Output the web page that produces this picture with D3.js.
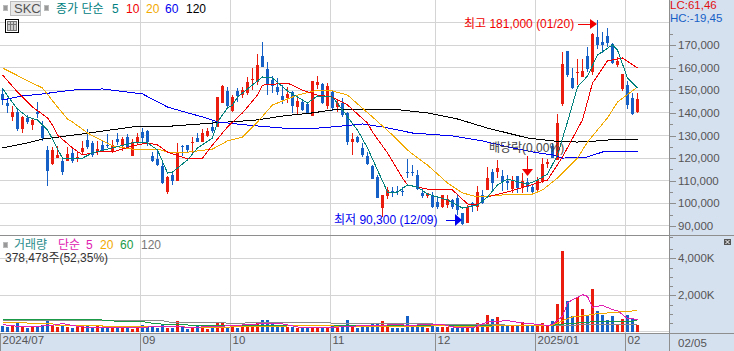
<!DOCTYPE html>
<html>
<head>
<meta charset="utf-8">
<script src="https://cdn.jsdelivr.net/npm/d3@7"></script>
<style>
    body { margin: 0; background: #fff; }
    svg { display: block; }
    text { font-family: "Liberation Sans", "Noto Sans CJK KR", sans-serif; }
</style>
</head>
<body>
<div id="chart"></div>
<script>
// daily candles
const opens = [148400,144400,138200,140400,132900,137800,134600,140400,134200,123600,117400,120000,118700,118700,122300,120000,122700,128000,126700,122700,125800,125800,123100,128400,125800,129300,120900,127100,131500,132000,
    120900,119600,116500,105000,112500,109900,125400,125800,126700,128900,127100,129800,133800,133800,144400,149700,140800,149700,147900,148800,154600,153700,165200,159400,154600,151500,147500,146600,149200,142600,
    144800,143900,138600,152300,152800,143100,149200,142600,144400,140000,127100,129300,124500,120900,116500,111600,97900,103200,105400,105400,105400,113800,113800,112500,104600,103200,103700,100600,98400,99200,
    101500,102300,95700,91300,100100,98400,103700,105900,113800,113800,112100,109900,106300,112100,106800,109400,107200,105900,109400,117400,125400,119200,143900,167400,155400,157700,155900,165200,158100,173600,
    171400,174000,170500,161200,150600,152300,146600,140400];
const highs = [151000,146600,143100,141300,138600,139100,137800,144800,136400,125400,124900,125400,120000,124900,124500,123100,127600,132900,127600,127600,128000,130700,128000,131100,129300,130700,128400,131100,133300,132400,
    122700,123600,118300,112100,113800,126700,125800,125800,129300,131100,132900,133300,136400,147000,152300,151500,147900,151000,151500,155900,159900,166100,171400,162500,156300,155400,152300,151500,149700,146600,
    145700,144800,154100,156300,153200,153200,149700,146200,146600,140400,131100,129800,126700,122700,116900,112500,103700,107200,107200,107600,107200,119600,116900,114700,106300,104600,105000,102800,103700,103700,
    101900,103700,95700,99200,100600,107600,105900,116100,115200,119200,114700,112500,112100,112100,113400,111200,108100,111600,120000,119600,126700,139500,167000,167400,159900,163900,163900,169200,175400,181000,
    175800,177600,171000,164700,157200,154100,148800,148800];
const lows = [143500,140000,136400,132000,131100,135100,132400,137800,127600,107600,116900,120000,112500,118700,117800,118300,121400,124000,120500,121400,122700,124500,122300,125800,123100,124500,120900,125800,126700,125400,
    118300,116500,108500,104100,108100,109900,120900,122300,122300,127100,127100,129300,131100,133800,144400,142200,140400,144800,146600,147900,150100,152300,160300,147900,148800,147900,143900,144400,140000,139100,
    140800,139500,138600,150600,143900,141700,140800,140400,138200,125800,121400,126700,120500,116900,110700,102300,93900,101900,102800,103700,103200,111200,112100,105900,102300,102300,97900,97500,97900,97900,
    97500,94800,90300,91300,96100,96600,99700,105900,105900,111200,105400,105900,104600,104600,104600,105000,104600,104600,109000,115600,120000,119200,143100,155900,150600,152300,155900,158100,156800,168300,
    166500,169200,161600,160300,149700,141700,139100,140000];
const closes = [145700,143100,140400,132900,138200,136000,136900,139500,128900,114300,123600,121400,113800,121800,118700,120500,124500,124900,121400,124000,123600,125400,125800,127100,128400,124500,127100,129300,128900,127100,
    118700,116900,109000,111600,109900,122700,124900,123600,127100,127100,131100,132000,132000,147000,151900,143100,147000,147500,150100,153700,155000,161200,160300,152800,151900,149200,145700,148400,143100,145300,
    141300,140000,154100,153700,144400,151900,142200,144400,139100,127100,128400,127100,121400,117400,110700,102300,103700,105900,105000,105000,105000,113600,113400,106300,103200,104600,98400,98400,103700,101900,
    98400,97000,90800,98400,98800,105000,100100,111200,109000,115600,109400,109000,110300,106800,109900,107200,105000,110300,117400,118300,120000,135500,161600,156800,151000,158100,158500,159400,174900,170100,
    170100,171000,162100,163000,157200,143500,139500,146200];
const volumes = [324,270,414,486,360,234,270,360,414,630,414,270,396,288,234,270,306,414,234,342,306,306,234,306,234,234,198,270,378,270,
    342,234,450,234,234,630,270,180,270,378,270,198,234,558,486,288,414,234,270,288,288,486,648,648,432,270,360,288,288,234,
    216,216,234,234,234,252,378,252,270,648,306,216,306,288,432,486,594,288,234,216,216,864,288,288,288,216,450,288,270,270,
    234,306,288,270,216,486,288,918,702,810,414,342,324,324,540,324,324,342,486,342,630,1512,4374,1710,864,1890,1242,954,2322,1134,
    954,684,864,450,720,918,720,378];

// moving averages, sampled along the drawn lines: day index, then price
const ma5Days = [0,1,3,5,7,9,10,11,12,14,16,18,21,26,29,31,33,34,37,39,42,43,45,46,47,49,52,54,57,61,63,66,68,71,73,75,77,79,81,83,85,89,92,95,97,99,101,105,107,109,111,113,115,117,119,122,123,125,127];
const ma5 = [151000,147500,141700,138200,136900,132400,128400,124000,120000,119600,120000,122300,124000,126700,126700,123600,113400,113800,119200,124500,128900,136000,142200,143500,147000,150600,155900,155400,149700,144400,147500,147000,141300,132400,124500,114700,105000,105000,108100,107200,104100,101500,97900,99200,102800,108100,110700,108500,110300,112900,121400,136000,151500,156300,165600,170100,167800,155400,151000];
const ma10Days = [0,3,6,9,10,11,14,16,19,22,26,29,31,33,37,40,42,45,48,51,52,57,60,63,66,69,73,74,77,80,81,85,90,93,95,97,101,107,109,112,116,118,121,124,127];
const ma10 = [156800,149200,142600,137800,134600,130200,124500,121400,122700,122700,125400,126700,125800,122700,119600,120000,125800,133800,140000,147900,152300,153200,150100,147900,147000,143500,135500,131500,122300,111200,108100,106300,105900,99700,99200,102800,105000,109000,110300,120500,136900,153200,163000,164300,159900];
const ma20Days = [0,4,8,11,13,14,17,22,27,31,33,36,42,45,48,51,54,59,63,66,69,74,78,81,82,85,89,92,95,97,100,106,108,110,111,115,117,121,123,127];
const ma20 = [159900,155400,151000,142600,137300,136000,131100,125400,123600,124000,122700,122300,124000,127600,129300,136000,143500,147900,150100,149700,147900,138200,130200,123600,121800,116900,109000,104600,102800,103200,103700,104100,105900,109400,111200,120000,127100,137800,144800,151500];
const ma60Days = [0,4,8,14,20,28,33,35,40,43,49,56,61,66,72,76,82,90,96,102,106,110,112,117,120,123,127];
const ma60 = [145700,147500,148400,150100,150600,148400,142600,141300,138200,136000,134600,133300,132900,133800,135100,133800,131100,129800,127600,124500,122700,121400,120000,120500,122700,123100,123100];
const ma120Days = [0,5,8,16,26,34,42,48,51,56,62,66,69,78,85,91,97,105,110,115,119,123,127];
const ma120 = [124500,126700,128400,130700,133800,134200,135500,136400,136900,138600,140000,141300,141700,141700,140000,137300,133300,128900,127600,127100,127600,128400,128400];

// volume averages (thousand shares)
const volMa5Days = [0,3,7,10,12,15,18,25,32,38,42,46,52,54,56,60,64,72,75,78,80,81,85,88,91,94,97,101,104,109,110,112,113,114,116,117,118,120,122,123,125,126,127];
const volMa5 = [414,324,324,378,468,324,234,234,324,270,306,360,468,468,450,234,234,360,360,414,414,360,432,432,234,234,558,630,504,378,414,864,1584,1764,2034,1944,1350,1458,1224,1170,738,738,684];
const volMa20Days = [0,8,10,11,14,19,22,28,40,46,49,56,58,66,67,73,80,88,92,97,100,110,111,113,114,117,119,122,124,127];
const volMa20 = [558,468,468,342,360,360,300,324,270,288,340,324,360,360,288,340,288,360,288,324,378,378,504,738,828,918,1008,1062,1116,1170];
const volMa60Days = [0,19,23,28,29,31,33,37,41,97,110,113,116,119,127];
const volMa60 = [684,684,594,594,522,468,414,396,342,342,378,468,522,594,612];
const volMa120Days = [0,32,33,48,49,65,80,97,110,115,127];
const volMa120 = [630,630,558,486,522,504,468,414,342,396,432];

// month starts on the time axis
const monthDays = [0,28,46,66,87,107,125];
const monthLabels = ["2024/07","09","10","11","12","2025/01","02"];

const priceTicks = [90000,100000,110000,120000,130000,140000,150000,160000,170000];
const priceGrid = [90000,100000,110000,120000,130000,140000,150000,160000,170000,180000];
const priceMinor = [85000,95000,105000,115000,125000,135000,145000,155000,165000,175000];
const volTicks = [2000,4000];
const volMinor = [500,1000,1500,2500,3000,3500,4500];

const W = 734, H = 351, plotRight = 669, volBottom = 333, panelTop = 235;
const RED = "#ea1c0d", BLUE = "#1560c6", PANEL = "#d6e1f0", GRID = "#d4d4d4", LINE = "#8e8e8e", TXT = "#555";

const svg = d3.select("#chart").append("svg").attr("width", W).attr("height", H);

const days = d3.range(opens.length);
const x = d3.scaleBand().domain(days).range([0, 5 * days.length]).paddingInner(0.4).paddingOuter(0.2);
const mid = d => x(d) + x.bandwidth() / 2;
const yPrice = d3.scaleLinear().domain([90000, 180000]).range([225.9, 22.5]);
const yVol = d3.scaleLinear().domain([0, 4000]).range([332.3, 258.3]);

// right and bottom panels
svg.append("rect").attr("x", plotRight).attr("y", 0).attr("width", W - plotRight).attr("height", H).attr("fill", PANEL);
svg.append("rect").attr("x", 0).attr("y", volBottom).attr("width", W).attr("height", H - volBottom).attr("fill", PANEL);

// grid
const grid = svg.append("g").attr("stroke", GRID).attr("shape-rendering", "crispEdges");
grid.selectAll(".py").data(priceGrid).enter().append("line")
    .attr("x1", 0).attr("x2", plotRight)
    .attr("y1", d => yPrice(d)).attr("y2", d => yPrice(d));
grid.selectAll(".vy").data([0, 2000, 4000]).enter().append("line")
    .attr("x1", 0).attr("x2", plotRight)
    .attr("y1", d => yVol(d) - (d === 0 ? 1 : 0)).attr("y2", d => yVol(d) - (d === 0 ? 1 : 0));
grid.selectAll(".mx").data(monthDays.slice(1)).enter().append("line")
    .attr("x1", d => x(d) - 0.5).attr("x2", d => x(d) - 0.5)
    .attr("y1", 0).attr("y2", volBottom);

// candles
const candles = svg.append("g").attr("shape-rendering", "crispEdges");
candles.selectAll(".wick").data(days).enter().append("rect")
    .attr("x", d => x(d) + 1).attr("width", 1)
    .attr("y", d => yPrice(highs[d]))
    .attr("height", d => Math.max(1, yPrice(lows[d]) - yPrice(highs[d])))
    .attr("fill", d => closes[d] >= opens[d] ? RED : BLUE);
candles.selectAll(".body").data(days).enter().append("rect")
    .attr("x", d => x(d)).attr("width", x.bandwidth())
    .attr("y", d => yPrice(Math.max(opens[d], closes[d])))
    .attr("height", d => Math.max(1, Math.abs(yPrice(opens[d]) - yPrice(closes[d]))))
    .attr("fill", d => closes[d] >= opens[d] ? RED : BLUE);

// volume bars
svg.append("g").attr("shape-rendering", "crispEdges")
    .selectAll("rect").data(days).enter().append("rect")
    .attr("x", d => x(d)).attr("width", x.bandwidth())
    .attr("y", d => yVol(volumes[d]))
    .attr("height", d => yVol(0) - yVol(volumes[d]))
    .attr("fill", d => closes[d] >= opens[d] ? RED : BLUE);

// moving averages, aliased like the original
function drawLine(idx, vals, yScale, color) {
    const line = d3.line().x(d => mid(d[0])).y(d => yScale(d[1]));
    svg.append("path")
        .attr("d", line(d3.zip(idx, vals)))
        .attr("fill", "none")
        .attr("stroke", color)
        .attr("stroke-width", 1)
        .attr("shape-rendering", "crispEdges");
}
drawLine(ma120Days, ma120, yPrice, "#000");
drawLine(ma60Days, ma60, yPrice, "#0000f0");
drawLine(ma20Days, ma20, yPrice, "#f2a900");
drawLine(ma10Days, ma10, yPrice, "#f00000");
drawLine(ma5Days, ma5, yPrice, "#00807a");
drawLine(volMa120Days, volMa120, yVol, "#8a8a8a");
drawLine(volMa60Days, volMa60, yVol, "#1a9a46");
drawLine(volMa20Days, volMa20, yVol, "#f2a900");
drawLine(volMa5Days, volMa5, yVol, "#e020b0");

// axes
function styleAxis(g) {
    g.select(".domain").remove();
    g.selectAll("line").attr("stroke", LINE).attr("shape-rendering", "crispEdges");
    g.selectAll("text").attr("fill", TXT).style("font-size", "11.5px")
        .style("font-family", "Liberation Sans, sans-serif");
}
svg.append("g").attr("transform", `translate(${plotRight},0)`)
    .call(d3.axisRight(yPrice).tickValues(priceTicks).tickFormat(d3.format(",")).tickSize(7).tickPadding(2))
    .call(styleAxis);
svg.append("g").attr("transform", `translate(${plotRight},0)`)
    .call(d3.axisRight(yPrice).tickValues(priceMinor).tickFormat("").tickSize(4))
    .call(styleAxis);
svg.append("g").attr("transform", `translate(${plotRight},0)`)
    .call(d3.axisRight(yVol).tickValues(volTicks).tickFormat(d => d3.format(",")(d) + "K").tickSize(7).tickPadding(2))
    .call(styleAxis);
svg.append("g").attr("transform", `translate(${plotRight},0)`)
    .call(d3.axisRight(yVol).tickValues(volMinor).tickFormat("").tickSize(4))
    .call(styleAxis);
const monthAxis = svg.append("g").attr("transform", `translate(-2,${volBottom})`)
    .call(d3.axisBottom(x).tickValues(monthDays).tickFormat(d => monthLabels[monthDays.indexOf(d)]).tickSize(18))
    .call(styleAxis);
monthAxis.selectAll("text").attr("text-anchor", "start").attr("x", 2).attr("y", 3);

// frame lines
const frame = svg.append("g").attr("stroke", LINE).attr("shape-rendering", "crispEdges");
frame.append("line").attr("x1", plotRight + 0.5).attr("x2", plotRight + 0.5).attr("y1", 0).attr("y2", H);
frame.append("line").attr("x1", 0).attr("x2", W).attr("y1", panelTop + 0.5).attr("y2", panelTop + 0.5);
frame.append("line").attr("x1", 0).attr("x2", W).attr("y1", volBottom + 0.5).attr("y2", volBottom + 0.5);

function label(px, py, str, color, size) {
    return svg.append("text").attr("x", px).attr("y", py).attr("fill", color)
        .style("font-size", (size || 12) + "px").text(str);
}
label(678, 347, "02/05", TXT, 11.5);

// header
function chip(px, py) {
    svg.append("rect").attr("x", px).attr("y", py).attr("width", 4).attr("height", 5)
        .attr("fill", "#999").attr("stroke", "#bbb").attr("shape-rendering", "crispEdges");
}
chip(3.5, 5.5);
chip(44.5, 5.5);
svg.append("rect").attr("x", 10.5).attr("y", 1.5).attr("width", 30).attr("height", 13.5)
    .attr("fill", "#e8e8e8").attr("stroke", "#bdbdbd").attr("shape-rendering", "crispEdges");
label(14, 13, "SKC", "#555", 13);
label(56, 13, "종가 단순", "#008080");
label(112, 13, "5", "#008080");
label(126, 13, "10", "#f00000");
label(146, 13, "20", "#f2a900");
label(165, 13, "60", "#0000f0");
label(186, 13, "120", "#000");

// table icon
const icon = svg.append("g").attr("shape-rendering", "crispEdges");
icon.append("rect").attr("x", 5.5).attr("y", 19.5).attr("width", 13).attr("height", 13)
    .attr("fill", "#fff").attr("stroke", "#000");
icon.append("rect").attr("x", 7.5).attr("y", 21.5).attr("width", 9).attr("height", 9)
    .attr("fill", "#ccc").attr("stroke", "#777");
icon.selectAll(".v").data([10.5, 13.5]).enter().append("line")
    .attr("x1", d => d).attr("x2", d => d).attr("y1", 21.5).attr("y2", 30.5).attr("stroke", "#777");
icon.append("line").attr("x1", 7.5).attr("x2", 16.5).attr("y1", 24.5).attr("y2", 24.5).attr("stroke", "#777");

label(670, 9, "LC:61,46", "#e01010", 11.5);
label(670, 22, "HC:-19,45", "#1560c6", 11.5);

// volume header
chip(3.5, 242.5);
label(14, 249, "거래량", "#2a8c8c");
label(58, 249, "단순", "#e020b0");
label(86, 249, "5", "#e020b0");
label(100, 249, "20", "#f2a900");
label(120, 249, "60", "#1a9a46");
label(141, 249, "120", "#777");
label(5, 262, "378,478주(52,35%)", "#333");

// expand button
svg.append("rect").attr("x", 724).attr("y", 239).attr("width", 7).attr("height", 6)
    .attr("fill", "#555").attr("shape-rendering", "crispEdges");
svg.append("path").attr("d", "M725.5 240 L729.5 244 M729.5 240 L725.5 244").attr("stroke", "#fff").attr("fill", "none");

// annotations
label(464, 28, "최고 181,000 (01/20)", "#f00000");
svg.append("path").attr("d", "M578 24 H590").attr("stroke", "#f00000").attr("shape-rendering", "crispEdges");
svg.append("path").attr("d", "M590 19 L597 24 L590 29 Z").attr("fill", "#f00000");

label(334, 224, "최저 90,300 (12/09)", "#0000f0");
svg.append("path").attr("d", "M446 220 H456").attr("stroke", "#0000f0").attr("shape-rendering", "crispEdges");
svg.append("path").attr("d", "M455 214 L462 220 L455 226 Z").attr("fill", "#0000f0");

label(489, 152, "배당락(0.00%)", "#444");
svg.append("path").attr("d", "M527.5 156 V170").attr("stroke", "#f00000").attr("shape-rendering", "crispEdges");
svg.append("path").attr("d", "M522 169 H533 L527.5 176 Z").attr("fill", "#f00000");
</script>
</body>
</html>
